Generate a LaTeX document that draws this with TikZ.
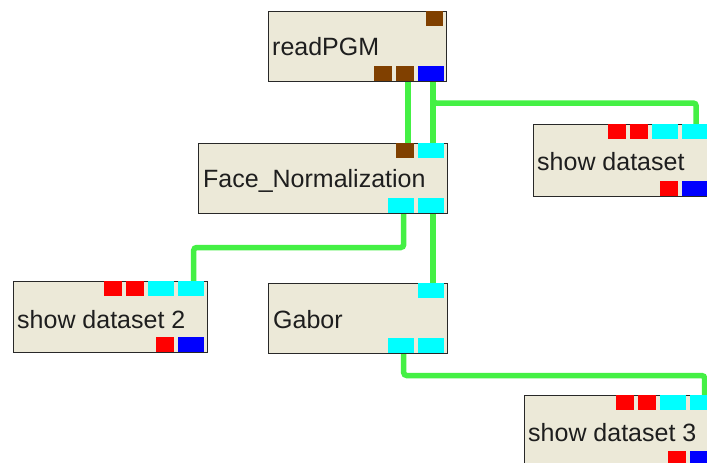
\documentclass[tikz,border=0pt]{standalone}
\usepackage{fontspec}
\setmainfont{Liberation Sans}
\pgfdeclarelayer{backdrop}
\pgfdeclarelayer{wires}
\pgfsetlayers{backdrop,wires,main}
\definecolor{boxfill}{RGB}{236,233,216}
\definecolor{boxline}{RGB}{40,40,40}
\definecolor{wiregreen}{RGB}{68,240,68}
\definecolor{pbrown}{RGB}{128,64,0}
\definecolor{pblue}{RGB}{0,0,255}
\definecolor{pcyan}{RGB}{0,255,255}
\definecolor{pred}{RGB}{255,0,0}
\definecolor{txt}{RGB}{30,30,30}
\tikzset{
  module/.style={draw=boxline, line width=1.4pt, fill=boxfill, inner sep=0pt, anchor=north west},
  modtext/.style={inner sep=0pt, anchor=base west, text=txt, font=\fontsize{25}{30}\selectfont},
  port/.style={inner sep=0pt, anchor=north west, minimum height=15pt, draw=none},
  narrowport/.style={port, minimum width=18pt},
  wideport/.style={port, minimum width=26pt},
  wire/.style={draw=wiregreen, line width=5.5pt, rounded corners=3pt}
}
\begin{document}
\begin{tikzpicture}[x=1pt,y=-1pt]
\begin{pgfonlayer}{backdrop}
\fill[white] (0,0) rectangle (707,463);
\end{pgfonlayer}
\useasboundingbox (0,0) rectangle (707,463);

% module boxes
\node[module, minimum width=178pt, minimum height=70pt] (pgm) at (268,11) {};
\node[module, minimum width=249pt, minimum height=70pt] (fn) at (198,143) {};
\node[module, minimum width=178pt, minimum height=72pt] (sd1) at (533,124) {};
\node[module, minimum width=194pt, minimum height=71pt] (sd2) at (13,281) {};
\node[module, minimum width=179pt, minimum height=70pt] (gab) at (268,283) {};
\node[module, minimum width=195pt, minimum height=71pt] (sd3) at (524,395) {};

% module titles
\node[modtext] (pgm-t) at (272,55) {readPGM};
\node[modtext] (fn-t) at (203,187) {Face\_Normalization};
\node[modtext] (sd1-t) at (537,170) {show dataset};
\node[modtext] (sd2-t) at (17,328) {show dataset 2};
\node[modtext] (gab-t) at (273,328) {Gabor};
\node[modtext] (sd3-t) at (528,441) {show dataset 3};

% readPGM ports
\node[narrowport, fill=pbrown, minimum width=17pt] (pgm-i1) at (426,11) {};
\node[narrowport, fill=pbrown] (pgm-o1) at (374,66) {};
\node[narrowport, fill=pbrown] (pgm-o2) at (396,66) {};
\node[wideport, fill=pblue] (pgm-o3) at (418,66) {};

% Face_Normalization ports
\node[narrowport, fill=pbrown] (fn-i1) at (396,143) {};
\node[wideport, fill=pcyan] (fn-i2) at (418,143) {};
\node[wideport, fill=pcyan] (fn-o1) at (388,198) {};
\node[wideport, fill=pcyan] (fn-o2) at (418,198) {};

% show dataset ports
\node[narrowport, fill=pred] (sd1-i1) at (608,124) {};
\node[narrowport, fill=pred] (sd1-i2) at (630,124) {};
\node[wideport, fill=pcyan] (sd1-i3) at (652,124) {};
\node[wideport, fill=pcyan] (sd1-i4) at (682,124) {};
\node[narrowport, fill=pred] (sd1-o1) at (660,181) {};
\node[wideport, fill=pblue] (sd1-o2) at (682,181) {};

% show dataset 2 ports
\node[narrowport, fill=pred] (sd2-i1) at (104,281) {};
\node[narrowport, fill=pred] (sd2-i2) at (126,281) {};
\node[wideport, fill=pcyan] (sd2-i3) at (148,281) {};
\node[wideport, fill=pcyan] (sd2-i4) at (178,281) {};
\node[narrowport, fill=pred] (sd2-o1) at (156,337) {};
\node[wideport, fill=pblue] (sd2-o2) at (178,337) {};

% Gabor ports
\node[wideport, fill=pcyan] (gab-i1) at (418,283) {};
\node[wideport, fill=pcyan] (gab-o1) at (388,338) {};
\node[wideport, fill=pcyan] (gab-o2) at (418,338) {};

% show dataset 3 ports
\node[narrowport, fill=pred] (sd3-i1) at (616,395) {};
\node[narrowport, fill=pred] (sd3-i2) at (638,395) {};
\node[wideport, fill=pcyan] (sd3-i3) at (660,395) {};
\node[wideport, fill=pcyan] (sd3-i4) at (690,395) {};
\node[narrowport, fill=pred] (sd3-o1) at (668,451) {};
\node[wideport, fill=pblue] (sd3-o2) at (690,451) {};

% connections, kept beneath the modules
\begin{pgfonlayer}{wires}
\draw[wire] ([xshift=3pt]pgm-o2.south) -- ([xshift=3pt]fn-i1.north);
\draw[wire] ([xshift=2pt]pgm-o3.south) -- ([xshift=2pt]fn-i2.north);
\draw[wire] ([xshift=2pt]pgm-o3.south) |- ([xshift=1pt,yshift=21pt]sd1-i4.north) -- ([xshift=1pt]sd1-i4.north);
\draw[wire] ([xshift=2.5pt]fn-o1.south) |- ([xshift=2.5pt,yshift=33.5pt]sd2-i4.north) -- ([xshift=2.5pt]sd2-i4.north);
\draw[wire] ([xshift=2pt]fn-o2.south) -- ([xshift=2pt]gab-i1.north);
\draw[wire] ([xshift=2.5pt]gab-o1.south) |- ([xshift=1.5pt,yshift=19.5pt]sd3-i4.north) -- ([xshift=1.5pt]sd3-i4.north);
\end{pgfonlayer}
\end{tikzpicture}
\end{document}
